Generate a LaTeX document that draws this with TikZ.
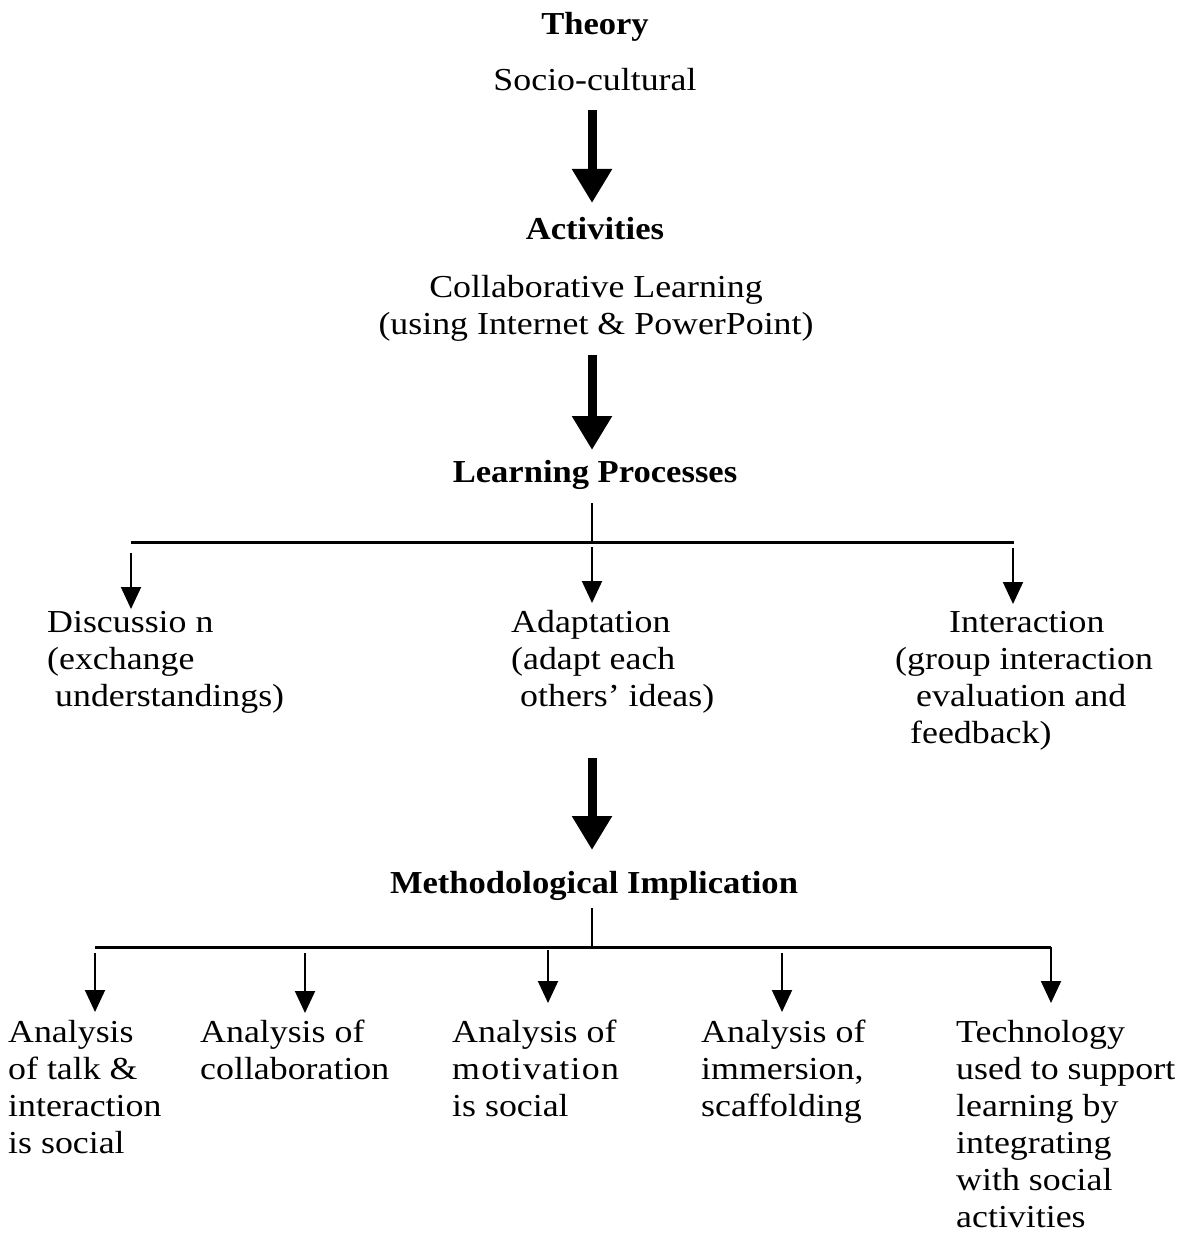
\documentclass[tikz,border=0pt]{standalone}
\usepackage{fontspec}
\setmainfont[FakeStretch=1.12,BoldFeatures={FakeStretch=1.08}]{Liberation Serif}
\usetikzlibrary{arrows.meta,calc}
\begin{document}
\begin{tikzpicture}[x=1pt,y=-1pt,
  txt/.style={inner sep=0pt, font=\fontsize{32}{37}\selectfont},
  hd/.style={inner sep=0pt, font=\fontsize{32}{37}\selectfont\bfseries},
  blk/.style={txt, align=left, anchor=north west},
  bigarrow/.style={line width=9pt, -{Triangle[width=38pt,length=34pt]}},
  smallarrow/.style={line width=2pt, -{Triangle[width=20pt,length=22pt]}},
  bar/.style={line width=3pt},
  stem/.style={line width=2pt}]
\useasboundingbox (0,0) rectangle (1202,1233);
% headings
\node[hd, anchor=base] (theory) at (595,35) {Theory};
\node[txt, anchor=base] (socio) at (595,91) {Socio-cultural};
\node[hd, anchor=base] (act) at (595,240) {Activities};
\node[txt, align=center, anchor=north] (collab) at (596,271.1) {\strut Collaborative Learning\\(using Internet \& PowerPoint)};
\node[hd, anchor=base] (lp) at (595,482) {Learning Processes};
\node[hd, anchor=base] (mi) at (594,893) {Methodological Implication};
% big arrows
\coordinate (a1s) at (592,110); \coordinate (a1e) at (592,203);
\coordinate (a2s) at (592,355); \coordinate (a2e) at (592,450);
\coordinate (a3s) at (592,758); \coordinate (a3e) at (592,850);
\draw[bigarrow] (a1s) -- (a1e);
\draw[bigarrow] (a2s) -- (a2e);
\draw[bigarrow] (a3s) -- (a3e);
% learning processes
\node[blk] (disc) at (47,606.1) {\strut Discussio n\\(exchange\\\hspace*{8pt}understandings)};
\node[blk] (adapt) at (511,606.1) {\strut Adaptation\\(adapt each\\\hspace*{9pt}others’ ideas)};
\node[blk] (inter) at (895,606.1) {\strut\hspace*{54pt}Interaction\\(group interaction\\\hspace*{21pt}evaluation and\\\hspace*{15pt}feedback)};
\coordinate (lpstem) at (592,503);
\coordinate (bar1m) at (592,542);
\coordinate (bar1l) at (131,542);
\coordinate (bar1r) at (1014,542);
\draw[stem] (lpstem) -- (bar1m);
\draw[bar] (bar1l) -- (bar1r);
\coordinate (p1s) at (131,553); \coordinate (p1e) at (131,609);
\coordinate (p2s) at (592,547); \coordinate (p2e) at (592,603);
\coordinate (p3s) at (1013,548); \coordinate (p3e) at (1013,604);
\draw[smallarrow] (p1s) -- (p1e);
\draw[smallarrow] (p2s) -- (p2e);
\draw[smallarrow] (p3s) -- (p3e);
% methodological implications
\node[blk] (c1) at (8,1016.1) {\strut Analysis\\of talk \&\\interaction\\is social};
\node[blk] (c2) at (200,1016.1) {\strut Analysis of\\collaboration};
\node[blk] (c3) at (452,1016.1) {\strut Analysis of\\{\addfontfeatures{LetterSpace=4}motivation}\\is social};
\node[blk] (c4) at (701,1016.1) {\strut Analysis of\\immersion,\\scaffolding};
\node[blk] (c5) at (956,1016.1) {\strut Technology\\used to support\\learning by\\integrating\\with social\\activities};
\coordinate (mistem) at (592,908);
\coordinate (bar2m) at (592,947);
\coordinate (bar2l) at (95,947);
\coordinate (bar2r) at (1051,947);
\coordinate (q5e) at (1051,1003);
\draw[stem] (mistem) -- (bar2m);
\draw[bar] (bar2l) -- (bar2r);
\draw[smallarrow] (bar2r) -- (q5e);
\coordinate (q1s) at (95,953); \coordinate (q1e) at (95,1012);
\coordinate (q2s) at (305,953); \coordinate (q2e) at (305,1013);
\coordinate (q3s) at (548,950); \coordinate (q3e) at (548,1003);
\coordinate (q4s) at (782,953); \coordinate (q4e) at (782,1012);
\draw[smallarrow] (q1s) -- (q1e);
\draw[smallarrow] (q2s) -- (q2e);
\draw[smallarrow] (q3s) -- (q3e);
\draw[smallarrow] (q4s) -- (q4e);
\end{tikzpicture}
\end{document}
